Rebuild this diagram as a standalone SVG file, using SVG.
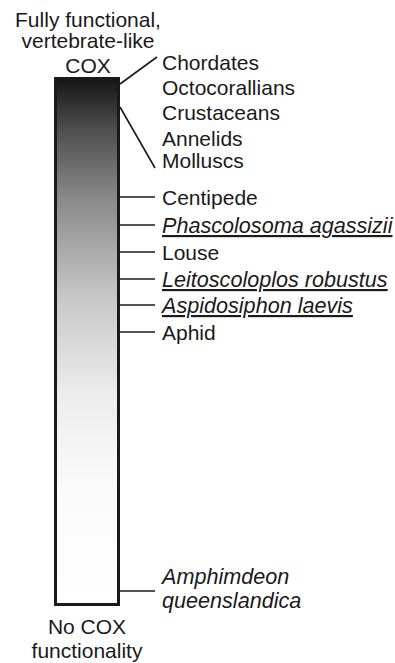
<svg xmlns="http://www.w3.org/2000/svg" width="395" height="663" viewBox="0 0 395 663">
<defs>
<linearGradient id="g" x1="0" y1="0" x2="0" y2="1">
<stop offset="0" stop-color="#151515"/>
<stop offset="0.1" stop-color="#505050"/>
<stop offset="0.23" stop-color="#8a8a8a"/>
<stop offset="0.42" stop-color="#c8c8c8"/>
<stop offset="0.6" stop-color="#ececec"/>
<stop offset="0.78" stop-color="#fbfbfb"/>
<stop offset="1" stop-color="#ffffff"/>
</linearGradient>
</defs>
<style>
text{font-family:"Liberation Sans",Arial,sans-serif;font-size:21px;fill:#1a1a1a}
.c{text-anchor:middle}
.i{font-style:italic;font-size:21.6px}
.u{text-decoration:underline}
.ln{stroke:#1a1a1a;stroke-width:1.6;fill:none}
</style>
<g id="bar">
<rect x="55.5" y="78.5" width="63" height="526" fill="url(#g)" stroke="#1a1a1a" stroke-width="3"/>
</g>
<g id="top-label">
<text class="c" x="88" y="27">Fully functional,</text>
<text class="c" x="88" y="48">vertebrate-like</text>
<text class="c" x="88" y="73">COX</text>
</g>
<g id="bottom-label">
<text class="c" x="87" y="634">No COX</text>
<text class="c" x="87" y="658">functionality</text>
</g>
<g id="connectors">
<line class="ln" x1="120" y1="84" x2="157" y2="57"/>
<line class="ln" x1="120" y1="107" x2="155" y2="168"/>
<line class="ln" x1="120" y1="197" x2="155" y2="197"/>
<line class="ln" x1="120" y1="225" x2="155" y2="225"/>
<line class="ln" x1="120" y1="252" x2="155" y2="252"/>
<line class="ln" x1="120" y1="279" x2="155" y2="279"/>
<line class="ln" x1="120" y1="305" x2="155" y2="305"/>
<line class="ln" x1="120" y1="332" x2="155" y2="332"/>
<line class="ln" x1="120" y1="591" x2="155" y2="591"/>
</g>
<g id="chordates"><text x="162" y="70">Chordates</text></g>
<g id="octocorallians"><text x="162" y="95">Octocorallians</text></g>
<g id="crustaceans"><text x="162" y="120">Crustaceans</text></g>
<g id="annelids"><text x="162" y="146">Annelids</text></g>
<g id="molluscs"><text x="162" y="168">Molluscs</text></g>
<g id="centipede"><text x="162" y="205">Centipede</text></g>
<g id="phascolosoma"><text class="i u" x="162" y="233">Phascolosoma agassizii</text></g>
<g id="louse"><text x="162" y="260">Louse</text></g>
<g id="leitoscoloplos"><text class="i u" x="162" y="287">Leitoscoloplos robustus</text></g>
<g id="aspidosiphon"><text class="i u" x="162" y="313">Aspidosiphon laevis</text></g>
<g id="aphid"><text x="162" y="340">Aphid</text></g>
<g id="amphimedon"><text class="i" x="162" y="584">Amphimdeon</text><text class="i" x="162" y="608">queenslandica</text></g>
</svg>
